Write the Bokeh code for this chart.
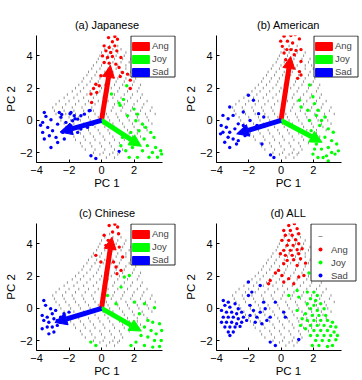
from bokeh.plotting import figure
from bokeh.models import Arrow, NormalHead, Legend, LegendItem, Range1d, FixedTicker, BoxAnnotation
from bokeh.layouts import gridplot
from bokeh.embed import file_html
from bokeh.resources import INLINE

titles = ["(a) Japanese", "(b) American", "(c) Chinese", "(d) ALL"]
emotions = ["Ang", "Joy", "Sad"]
x_ticks = [-4, -2, 0, 2]
y_ticks = [-2, 0, 2, 4]

# shared grey background points (rows of equal PC 2)
gray_levels = [4.6, 4.4, 4.2, 4.0, 3.8, 3.6, 3.4, 3.2, 3.0, 2.8, 2.6, 2.4, 2.2, 2.0, 1.8, 1.6, 1.4, 1.2,
               1.0, 0.8, 0.6, 0.4, 0.2, 0.0, -0.2, -0.4, -0.6, -0.8, -1.0, -1.2, -1.4, -1.6, -1.8, -2.0, -2.1, -2.3]
gray_rows = [
    [0.5, 1.0],
    [0.2, 0.7, 1.2],
    [0.0, 0.5, 1.0, 1.5],
    [-0.1, 0.4, 0.9, 1.4],
    [-0.2, 0.3, 0.8, 1.3, 1.8],
    [-0.3, 0.2, 0.7, 1.2, 1.7],
    [-0.5, 0.0, 0.5, 1.0, 1.5, 1.9],
    [-0.6, -0.1, 0.4, 0.9, 1.5, 2.0],
    [-0.8, -0.3, 0.2, 0.7, 1.2, 1.8, 2.1],
    [-0.9, -0.4, 0.1, 0.6, 1.1, 1.7, 2.2],
    [-1.1, -0.6, -0.1, 0.4, 1.0, 1.5, 2.1],
    [-1.2, -0.7, -0.2, 0.3, 0.9, 1.4, 2.0],
    [-1.4, -0.9, -0.3, 0.2, 0.8, 1.3, 1.9, 2.4],
    [-1.6, -1.1, -0.5, 0.0, 0.6, 1.1, 1.7, 2.3],
    [-1.8, -1.3, -0.7, -0.1, 0.4, 1.0, 1.6, 2.2],
    [-2.1, -1.5, -0.9, -0.3, 0.2, 0.8, 1.4, 1.9, 2.5],
    [-2.3, -1.7, -1.1, -0.5, 0.1, 0.7, 1.2, 1.8, 2.4],
    [-2.6, -2.0, -1.4, -0.8, -0.2, 0.4, 1.0, 1.6, 2.2, 2.8],
    [-2.8, -2.2, -1.6, -1.0, -0.4, 0.2, 0.8, 1.4, 2.0, 2.6],
    [-3.0, -2.4, -1.8, -1.2, -0.6, 0.1, 0.7, 1.3, 1.9, 2.5, 3.1],
    [-2.9, -2.3, -1.7, -1.1, -0.5, 0.0, 0.6, 1.2, 1.8, 2.4, 3.0],
    [-2.8, -2.2, -1.6, -1.0, -0.4, 0.3, 0.9, 1.5, 2.1, 2.7, 3.3],
    [-2.6, -2.0, -1.4, -0.8, -0.2, 0.4, 1.0, 1.6, 2.2, 2.8],
    [-2.5, -1.9, -1.3, -0.7, -0.1, 0.5, 1.1, 1.7, 2.3, 2.9],
    [-2.3, -1.7, -1.1, -0.5, 0.1, 0.7, 1.3, 1.9, 2.5, 3.1],
    [-2.2, -1.6, -1.0, -0.4, 0.2, 0.8, 1.4, 2.0, 2.6],
    [-2.0, -1.4, -0.8, -0.2, 0.4, 1.0, 1.6, 2.2, 2.8],
    [-1.9, -1.3, -0.7, -0.1, 0.5, 1.1, 1.7, 2.2],
    [-1.7, -1.1, -0.5, 0.1, 0.7, 1.3, 1.9, 2.4],
    [-1.6, -1.0, -0.4, 0.2, 0.8, 1.4, 1.9],
    [-1.3, -0.7, -0.1, 0.5, 1.1, 1.7],
    [-1.2, -0.6, 0.0, 0.6, 1.2],
    [-1.0, -0.4, 0.2, 0.8, 1.3],
    [-0.5, 0.1, 0.7, 1.1],
    [-0.1, 0.5, 1.0],
    [0.3, 0.8],
]

# (a) Japanese
a_ang_x = [0.43, 0.82, 0.98, 0.67, 0.16, 0.47, 0.82, 0.27, 0.57, 0.94, 0.06, 0.37, 0.67, 1.19, 0.16, 0.47, 0.88, 1.08, 1.29, 1.15, -0.04, -0.35, -0.14, -0.65, -0.29, -0.61, 1.60, 1.77, 1.77, -0.49]
a_ang_y = [5.12, 5.19, 5.02, 4.86, 4.61, 4.51, 4.61, 4.30, 4.20, 4.30, 3.99, 3.89, 3.95, 3.89, 3.58, 3.54, 3.48, 3.27, 2.96, 2.72, 2.76, 2.24, 2.14, 1.63, 1.73, 1.11, 2.86, 2.49, 1.97, 1.97]
a_joy_x = [0.61, 1.08, 1.55, 2.00, 2.21, 1.60, 2.11, 2.52, 2.72, 2.31, 1.80, 3.03, 3.23, 2.62, 2.00, 2.21, 2.82, 3.33, 3.64, 3.13, 2.52, 1.90, 1.49, 1.70, 2.21, 2.92, 3.44, 3.70, 1.19, 1.29, 1.15, 1.35]
a_joy_y = [1.63, 1.07, 2.14, 0.70, 0.39, 0.29, -0.02, -0.23, -0.43, -0.64, -0.74, -0.74, -1.05, -1.15, -1.15, -1.46, -1.56, -1.67, -1.87, -1.98, -1.87, -1.67, -1.87, -2.28, -2.28, -2.28, -2.28, -2.08, -1.56, -1.05, 0.93, 1.30]
a_sad_x = [-3.52, -3.42, -3.62, -3.11, -3.31, -3.62, -3.01, -2.70, -2.49, -2.60, -3.21, -3.52, -2.80, -2.39, -2.09, -1.88, -1.78, -2.19, -1.47, -1.27, -1.06, -0.76, -1.88, -1.68, -3.11, -2.70, -2.29, -0.65, -0.35, -1.27, -0.86, -0.55, -1.47, 1.08, -3.75, -2.45, -1.94, -1.63, -0.70]
a_sad_y = [0.49, 0.25, -0.12, 0.04, -0.43, -0.74, -0.64, -0.23, 0.19, 0.49, -0.95, -1.15, -1.05, -0.74, -0.53, -0.33, -0.02, -0.12, 0.08, 0.29, 0.39, 0.60, 0.49, 0.29, -1.67, -1.36, -1.15, -2.18, -2.35, -0.53, -0.43, -0.23, -0.74, -1.91, -0.30, 0.37, 0.41, 0.10, 0.62]
a_arrow_x = [0.55, 2.45, -2.55]
a_arrow_y = [3.40, -1.60, -0.72]

# (b) American
b_ang_x = [0.19, 0.61, 0.88, 1.14, 0.40, 0.72, 0.08, 0.36, 0.61, 0.93, 1.24, 0.19, 0.82, 1.24, 1.14, 1.24, 1.03, 0.29, -0.02]
b_ang_y = [5.21, 5.25, 5.31, 5.04, 4.90, 4.79, 4.58, 4.38, 4.38, 4.33, 4.38, 4.17, 4.06, 3.65, 3.02, 2.81, 2.60, 3.75, 4.90]
b_joy_x = [1.77, 1.14, 1.98, 2.08, 2.29, 2.19, 2.51, 2.72, 2.40, 2.93, 3.24, 2.72, 3.14, 3.45, 2.93, 2.51, 2.19, 1.98, 2.29, 2.82, 3.35, 3.56, 3.14, 2.61, 2.08, 1.66, 1.87, 2.93, 1.24, 1.77]
b_joy_y = [2.19, 1.25, 1.46, 1.04, 0.63, 0.31, 0.00, 0.21, -0.31, -0.52, -0.73, -1.04, -1.25, -1.46, -1.67, -1.77, -1.46, -2.08, -2.29, -2.19, -2.08, -1.88, -1.98, -2.29, -1.77, 0.63, -0.63, -2.50, 0.83, 0.00]
b_sad_x = [-3.18, -3.60, -3.28, -2.97, -3.71, -3.39, -3.60, -3.18, -2.86, -2.65, -2.34, -3.28, -2.97, -3.49, -3.18, -2.65, -2.23, -2.02, -1.71, -2.34, -1.39, -1.07, -1.18, -0.65, -0.44, -1.92, -1.49, -2.76, -3.75, -2.44]
b_sad_y = [0.83, 0.31, 0.10, 0.31, -0.31, -0.42, -0.73, -0.73, -0.52, -0.21, -0.31, -1.04, -1.15, -1.35, -1.67, -1.25, -0.94, 1.56, 1.25, 0.52, 0.42, 0.21, -1.46, -2.13, -2.29, 0.00, -0.31, -1.46, -0.83, -0.73]
b_arrow_x = [0.60, 2.55, -2.75]
b_arrow_y = [3.95, -1.35, -0.83]

# (c) Chinese
c_ang_x = [0.47, 0.82, 0.99, 0.68, 1.05, 0.16, 0.41, 0.27, 1.09, -0.35, -0.04, 0.89, 1.20, 0.95, 1.30, 0.74]
c_ang_y = [5.13, 5.20, 5.03, 4.72, 4.62, 4.52, 4.21, 3.90, 3.79, 3.28, 2.87, 2.56, 2.35, 2.14, 3.18, 2.87]
c_joy_x = [1.40, 1.71, 2.02, 2.64, 3.26, 2.33, 2.85, 3.15, 3.57, 2.64, 3.05, 3.36, 3.70, 2.43, 2.85, 3.26, 3.67, 2.12, 2.64, 3.15, 3.57, 1.81, -0.66, -0.35, 2.23, 0.37, 0.89, 1.20]
c_joy_y = [1.94, 2.04, 0.39, 0.29, 0.04, -0.33, -0.74, -0.85, -0.95, -1.15, -1.36, -1.57, -1.36, -1.67, -1.77, -1.98, -1.98, -2.08, -2.29, -2.39, -2.35, -2.29, -2.08, -2.29, -1.26, 0.80, 0.29, 1.32]
c_sad_x = [-3.55, -3.44, -3.13, -3.65, -3.34, -3.03, -3.55, -3.24, -2.93, -2.72, -3.65, -3.34, -3.03, -2.72, -3.24, -2.93, -2.52, -2.31, -2.00, -2.82, -2.52]
c_sad_y = [0.49, 0.19, -0.02, -0.43, -0.54, -0.33, -0.74, -0.85, -0.64, -0.74, -1.26, -1.15, -1.15, -1.05, -1.57, -1.46, -0.54, -0.33, -0.23, -0.12, -0.85]
c_arrow_x = [0.64, 2.45, -2.87]
c_arrow_y = [4.40, -1.40, -0.87]

# (d) ALL
d_ang_x = [0.48, 0.83, 0.17, 0.58, 1.00, 0.27, 0.69, 1.10, 0.06, 0.48, 0.90, 0.38, 0.75, 1.10, 0.17, 0.58, 1.00, 0.27, 0.69, 1.10, 0.38, 0.79, 1.21, 1.52, 1.00, 0.17, -0.15, -0.35, -0.67, 0.06, 0.48, 0.17, 0.79, 1.10, 1.42, -0.04, 1.31, -0.77]
d_ang_y = [5.13, 5.24, 4.82, 4.82, 4.93, 4.52, 4.52, 4.62, 4.21, 4.21, 4.25, 3.90, 3.90, 4.00, 3.59, 3.59, 3.63, 3.28, 3.28, 3.38, 2.97, 3.01, 3.07, 2.80, 2.66, 2.76, 2.35, 2.19, 1.73, 2.04, 1.84, 1.63, 1.53, 1.94, 2.04, 3.38, 3.69, 1.53]
d_joy_x = [1.73, 1.00, 1.10, 0.48, 1.63, 2.04, 2.25, 1.83, 2.15, 1.63, 2.04, 2.46, 1.83, 2.25, 2.67, 1.52, 1.94, 2.35, 2.77, 1.63, 2.04, 2.46, 2.88, 3.19, 1.83, 2.25, 2.67, 3.08, 3.40, 1.52, 2.04, 2.46, 2.88, 3.29, 1.83, 2.25, 2.67, 3.08, 3.50, 2.15, 2.56, 2.98, 3.40, 1.94, 2.35, 2.88, 1.21, 1.31, 1.00, 3.19]
d_joy_y = [2.19, 1.11, 0.70, 0.80, 1.01, 1.01, 0.80, 0.60, 0.49, 0.29, 0.19, 0.29, -0.02, -0.12, -0.02, -0.33, -0.43, -0.43, -0.43, -0.74, -0.74, -0.74, -0.74, -0.85, -1.05, -1.05, -1.05, -1.11, -1.15, -1.26, -1.36, -1.36, -1.36, -1.46, -1.67, -1.67, -1.67, -1.67, -1.67, -1.98, -1.98, -1.98, -1.94, -2.29, -2.29, -2.35, -1.05, -0.64, -0.12, -2.29]
d_sad_x = [-3.58, -3.27, -3.48, -3.17, -2.85, -2.65, -3.69, -3.38, -3.06, -2.75, -2.44, -3.58, -3.27, -2.96, -2.65, -2.33, -3.69, -3.38, -3.06, -2.75, -2.44, -2.13, -3.48, -3.17, -2.85, -2.54, -3.27, -2.96, -3.17, -2.02, -1.29, -1.92, -1.71, -1.92, -1.50, -1.29, -0.98, -1.60, -1.19, -0.88, -0.67, -1.08, -0.35, 0.17, 0.27, -0.67, -0.35, 1.10, -1.81, -2.02]
d_sad_y = [0.49, 0.39, 0.19, 0.08, 0.29, -0.02, -0.12, -0.23, -0.23, -0.33, -0.23, -0.54, -0.54, -0.54, -0.64, -0.54, -0.85, -0.85, -0.85, -0.95, -0.85, -0.74, -1.15, -1.15, -1.15, -1.11, -1.46, -1.46, -1.67, 1.63, 1.42, 0.19, -0.12, -0.43, -0.54, -0.23, -0.02, -0.85, -0.95, -0.74, -0.54, 0.39, 0.39, -0.23, -0.54, -2.08, -2.29, -1.92, 1.01, 0.80]

colors = {"Ang": "#ff0000", "Joy": "#00ff00", "Sad": "#0000ff"}
FONT = "Liberation Sans"
NAN = float("nan")

gray_x = [x for row in gray_rows for x in row]
gray_y = [lv for lv, row in zip(gray_levels, gray_rows) for _ in row]


def legend_frame(p, l, r, t, b):
    """White legend box with a dark border, placed in frame pixels (from bottom-left)."""
    box = BoxAnnotation(left=l, right=r, top=t, bottom=b,
                        left_units="screen", right_units="screen",
                        top_units="screen", bottom_units="screen",
                        fill_color="white", fill_alpha=1.0,
                        line_color="#262626", line_alpha=1.0, line_width=1)
    p.add_layout(box)


def make_panel(idx, pts, arrows):
    col, row = idx % 2, idx // 2
    left = 36 if col == 0 else 33
    axis_px = 126 if col == 0 else 125       # pixel length of the drawn x axis
    fw = 177 - left                          # frame reaches past the legend's right edge
    right = 181 - left - fw
    x_end = -4 + 7.75 * fw / axis_px
    top = 35 if row == 0 else 30
    bottom = 31 if row == 0 else 30
    p = figure(frame_width=fw, frame_height=127,
               min_border_left=left, min_border_right=right,
               min_border_top=top, min_border_bottom=bottom,
               x_range=Range1d(-4, x_end), y_range=Range1d(-2.6, 5.25),
               output_backend="svg", toolbar_location=None,
               title=titles[idx])
    p.title.align = "center"
    p.title.text_font = FONT
    p.title.text_font_size = "11px"
    p.title.text_font_style = "normal"
    p.title.text_color = "#000000"
    p.title.offset = -(fw - axis_px) / 2
    p.outline_line_color = None
    p.grid.visible = False
    p.background_fill_color = "white"
    p.border_fill_color = "white"
    p.xaxis.ticker = FixedTicker(ticks=x_ticks)
    p.yaxis.ticker = FixedTicker(ticks=y_ticks)
    p.xaxis.bounds = (-4, 3.75)
    p.xaxis.axis_label = "PC 1"
    p.yaxis.axis_label = "PC 2"
    for ax in (p.xaxis[0], p.yaxis[0]):
        ax.major_tick_in = 3
        ax.major_tick_out = 0
        ax.minor_tick_line_color = None
        ax.axis_line_color = "#000000"
        ax.major_tick_line_color = "#000000"
        ax.major_label_text_font = FONT
        ax.major_label_text_font_size = "11px"
        ax.major_label_text_color = "#000000"
        ax.axis_label_text_font = FONT
        ax.axis_label_text_font_size = "11.5px"
        ax.axis_label_text_font_style = "normal"
        ax.axis_label_text_color = "#000000"
    p.xaxis.major_label_standoff = 3
    p.xaxis.axis_label_standoff = 0
    p.yaxis.major_label_standoff = 4
    p.yaxis.axis_label_standoff = 0

    g = p.scatter(gray_x, gray_y, marker="dash", angle=1.5708, size=2.5,
                  line_color="#3a3a3a", line_width=1, line_alpha=0.55)
    rends = {}
    for emo, (xs, ys) in zip(emotions, pts):
        rends[emo] = p.scatter(xs, ys, size=3.4, fill_color=colors[emo], line_color=None)

    if arrows is not None:
        ax_, ay_ = arrows
        for emo, xe, ye in zip(emotions, ax_, ay_):
            c = colors[emo]
            p.add_layout(Arrow(end=NormalHead(size=12, fill_color=c, line_color=c, line_width=1),
                               x_start=0, y_start=0, x_end=xe, y_end=ye,
                               line_color=c, line_width=5))
        items = []
        for emo in emotions:
            q = p.quad(left=[NAN], right=[NAN], top=[NAN], bottom=[NAN],
                       fill_color=colors[emo], line_color=colors[emo])
            items.append(LegendItem(label=emo, renderers=[q]))
        lx, ly = 130 - left, 85
        legend_frame(p, lx + 0.5, lx + 44.5, 126.5, ly + 0.5)
        leg = Legend(items=items, location=(lx, ly),
                     glyph_width=21, glyph_height=10, label_height=11, label_width=10,
                     spacing=2, padding=3, margin=0, label_standoff=1,
                     label_text_font=FONT, label_text_font_size="9.5px",
                     border_line_color=None,
                     background_fill_alpha=0.0)
    else:
        items = [LegendItem(label=" ", renderers=[g])]
        for emo in emotions:
            items.append(LegendItem(label=emo, renderers=[rends[emo]]))
        lx, ly = 308 - 181 - left, 69
        legend_frame(p, lx + 0.5, lx + 45.5, 126.5, ly + 0.5)
        leg = Legend(items=items, location=(lx, ly),
                     glyph_width=20, glyph_height=10, label_height=12, label_width=10,
                     spacing=1, padding=4, margin=0, label_standoff=1,
                     label_text_font=FONT, label_text_font_size="9.5px",
                     border_line_color=None,
                     background_fill_alpha=0.0)
    p.add_layout(leg)
    return p


pa = make_panel(0, [(a_ang_x, a_ang_y), (a_joy_x, a_joy_y), (a_sad_x, a_sad_y)], (a_arrow_x, a_arrow_y))
pb = make_panel(1, [(b_ang_x, b_ang_y), (b_joy_x, b_joy_y), (b_sad_x, b_sad_y)], (b_arrow_x, b_arrow_y))
pc = make_panel(2, [(c_ang_x, c_ang_y), (c_joy_x, c_joy_y), (c_sad_x, c_sad_y)], (c_arrow_x, c_arrow_y))
pd = make_panel(3, [(d_ang_x, d_ang_y), (d_joy_x, d_joy_y), (d_sad_x, d_sad_y)], None)

grid = gridplot([[pa, pb], [pc, pd]], toolbar_location=None)
open("out.html", "w").write(file_html(grid, INLINE))
